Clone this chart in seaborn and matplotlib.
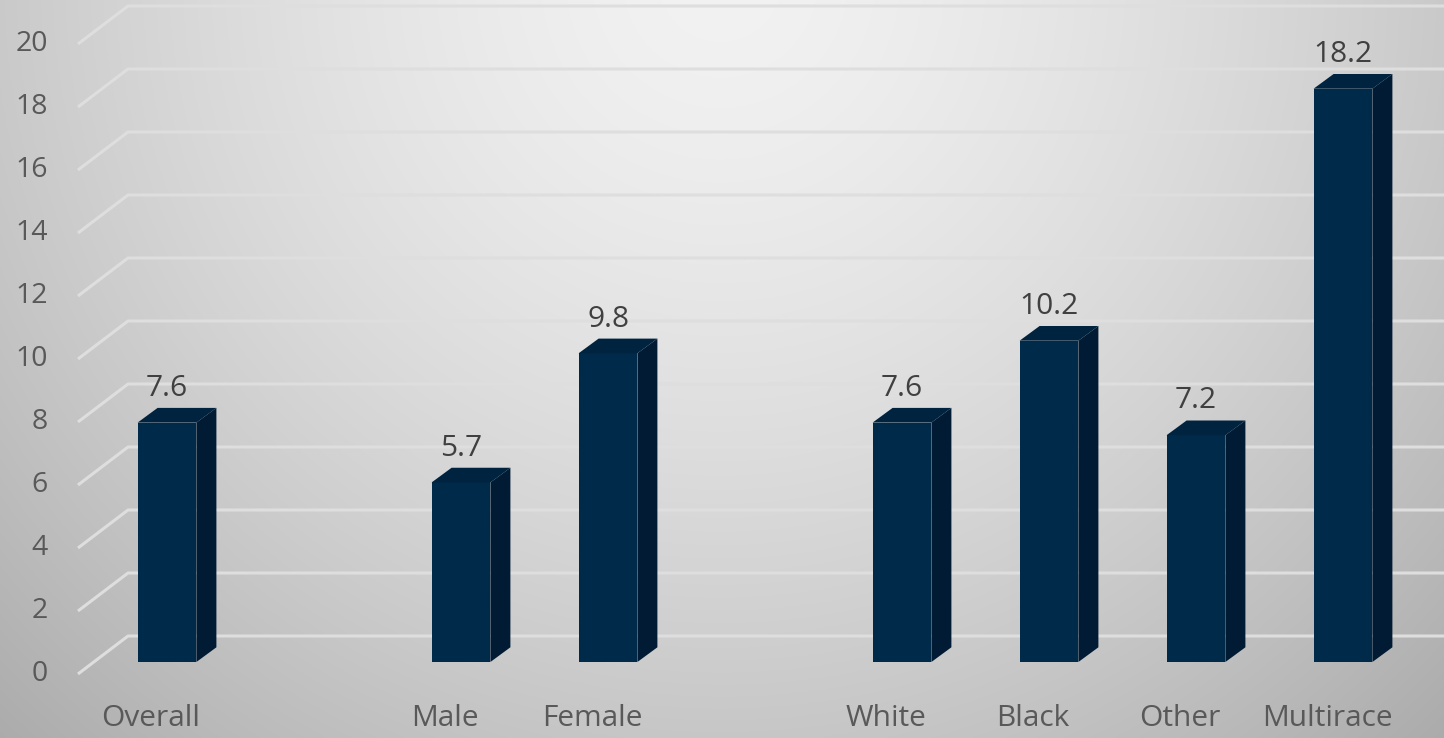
import numpy as np
import pandas as pd
import matplotlib
matplotlib.use("Agg")
import matplotlib.pyplot as plt
from matplotlib.patches import Polygon
import seaborn as sns

# ---- data ----
categories = ["Overall", "Male", "Female", "White", "Black", "Other", "Multirace"]
values = [7.6, 5.7, 9.8, 7.6, 10.2, 7.2, 18.2]
slot_order = ["Overall", "gap1", "Male", "Female", "gap2", "White", "Black", "Other", "Multirace"]
y_ticks = [0, 2, 4, 6, 8, 10, 12, 14, 16, 18, 20]
value_labels = ["7.6", "5.7", "9.8", "7.6", "10.2", "7.2", "18.2"]

# ---- style / geometry ----
W, H, DPI = 1444, 738, 100
X0_PX, SLOT_PX = 167.0, 147.0     # pixel of slot 0 front centre, slot spacing
Y0_PX, UNIT_PX = 662.0, 31.5      # pixel of value 0 at bar front, pixels per unit
BAR_W = 0.40
DX = 20.0 / SLOT_PX               # depth offset (x) in data units
DY = 14.7 / UNIT_PX               # depth offset (y) in data units
FRONT_C = "#002A4A"
SIDE_C = "#001B33"
TOP_C = "#00233F"
GRID_C = "#dedede"

def px2x(p):
    return (p - X0_PX) / SLOT_PX

def px2y(p):
    return (Y0_PX - p) / UNIT_PX

sns.set_theme(style="white")
plt.rcParams["font.family"] = ["Open Sans", "DejaVu Sans"]

fig = plt.figure(figsize=(W / DPI, H / DPI), dpi=DPI)
ax = fig.add_axes([0, 0, 1, 1])
xlim = (px2x(0), px2x(W))
ylim = (px2y(H), px2y(0))

# background radial gradient
yy, xx = np.mgrid[0:H, 0:W]
r = np.sqrt(((xx - 720) / 1000.0) ** 2 + ((yy + 20) / 1000.0) ** 2)
g = np.clip(242 - 66 * r ** 1.5, 0, 255) / 255.0
bg = np.dstack([g, g, g])
ax.imshow(bg, extent=[xlim[0], xlim[1], ylim[0], ylim[1]], aspect="auto", zorder=0)

# back-wall gridlines with perspective diagonal
back_off = px2y(636)
front_off = px2y(674)
for v in y_ticks:
    xs = [px2x(78), px2x(128), px2x(W)]
    ys = [v + front_off, v + back_off, v + back_off]
    ax.plot(xs, ys, color=GRID_C, lw=2.2, solid_capstyle="butt", zorder=1)
    ax.text(px2x(48), v + front_off, str(v), ha="right", va="center",
            fontsize=20.5, color="#595959", zorder=5)

# front faces via seaborn
df = pd.DataFrame({"cat": categories, "val": values})
sns.barplot(data=df, x="cat", y="val", order=slot_order, color=FRONT_C,
            saturation=1, width=BAR_W, linewidth=0, ax=ax, zorder=3)
for p in ax.patches:
    p.set_facecolor(FRONT_C)
    p.set_edgecolor("none")
    p.set_zorder(3)

# 3D side and top faces
for cat, v, lab in zip(categories, values, value_labels):
    xc = slot_order.index(cat)
    xl, xr = xc - BAR_W / 2, xc + BAR_W / 2
    side = Polygon([(xr, 0), (xr + DX, DY), (xr + DX, v + DY), (xr, v)],
                   closed=True, facecolor=SIDE_C, edgecolor="none", zorder=3)
    top = Polygon([(xl, v), (xl + DX, v + DY), (xr + DX, v + DY), (xr, v)],
                  closed=True, facecolor=TOP_C, edgecolor="none", zorder=3)
    ax.add_patch(side)
    ax.add_patch(top)
    ax.text(xc, v + DY + 5 / UNIT_PX, lab, ha="center", va="bottom",
            fontsize=21.5, color="#404040", zorder=5)
    ax.text(xc - 16 / SLOT_PX, px2y(719), cat, ha="center", va="center",
            fontsize=21.5, color="#595959", zorder=5)

ax.set_xlim(*xlim)
ax.set_ylim(*ylim)
ax.axis("off")
fig.savefig("out.png", dpi=DPI)
